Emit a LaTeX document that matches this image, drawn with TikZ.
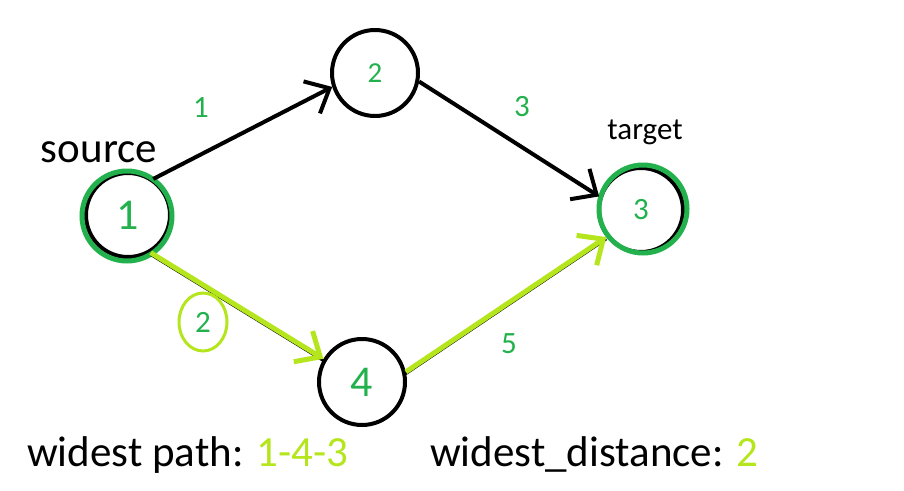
\documentclass[tikz,border=0pt]{standalone}
\usepackage{fontspec}
\setmainfont{Carlito}
\usepackage{xcolor}
\usetikzlibrary{arrows.meta}
\usetikzlibrary{shapes.geometric}

\definecolor{verde}{HTML}{22B14C}
\definecolor{lima}{HTML}{B5E61D}

\begin{document}
\begin{tikzpicture}[
        x=1pt, y=-1pt,
        vertice/.style={circle, draw, line width=4pt, minimum size=84pt, inner sep=0pt, text=verde},
        anillo/.style={verde, line width=5pt},
        flecha/.style={line width=4pt, -{Straight Barb[length=20pt, width=36pt]}},
        peso/.style={text=verde, font=\fontsize{31}{33}\selectfont}
    ]
        % --- Marco de la imagen ---
        \useasboundingbox (0,0) rectangle (904,490);

        % --- Vertices del grafo ---
        \node[vertice, font=\fontsize{44}{46}\selectfont] (n1) at (128,215) {1};
        \node[vertice, minimum size=86pt, font=\fontsize{29}{31}\selectfont] (n2) at (375,73) {2};
        \node[vertice, font=\fontsize{31}{33}\selectfont] (n3) at (641,210) {3};
        \node[vertice, minimum size=86pt, font=\fontsize{44}{46}\selectfont] (n4) at (362,382) {4};

        % Anillos verdes del origen y del destino
        \draw[anillo] ([shift={(-1pt,-1pt)}]n1.center) circle (45pt);
        \draw[anillo] ([shift={(2pt,1pt)}]n3.center) circle (44pt);

        % --- Etiquetas de origen y destino ---
        \node[anchor=base, font=\fontsize{43}{45}\selectfont] (src) at (99,162) {source};
        \node[anchor=base, font=\fontsize{31}{33}\selectfont] (tgt) at (645,139) {target};

        % --- Aristas negras ---
        \draw[flecha] (n1.55) -- (n2.198);
        \draw[flecha] (n2.-11) -- (n3.162);
        \draw[line width=2.5pt] ([yshift=-2pt]n1.-59) -- ([yshift=-2pt]n4.149);
        \draw[line width=2.5pt] ([yshift=-2pt]n4.13) -- ([yshift=-2pt]n3.218);

        % --- Camino mas ancho (lima) ---
        \draw[flecha, lima, line width=5pt] (n1.-59) -- (n4.149);
        \draw[flecha, lima, line width=5pt] (n4.13) -- (n3.218);

        % --- Pesos de las aristas ---
        \node[peso] (w12) at (201,108) {1};
        \node[peso] (w23) at (522,107) {3};
        \node[peso] (w43) at (509,344) {5};
        \node[peso, ellipse, draw=lima, line width=3pt, minimum width=48pt, minimum height=58pt, inner sep=0pt] (w14) at (203,322) {2};

        % --- Resultado ---
        \node[anchor=base west, inner sep=0pt, font=\fontsize{43}{45}\selectfont] (ruta) at (27,466) {widest path: \textcolor{lima}{1-4-3}};
        \node[anchor=base west, inner sep=0pt, font=\fontsize{43}{45}\selectfont] (dist) at (430,466) {widest\_distance: \textcolor{lima}{2}};

    \end{tikzpicture}
\end{document}
